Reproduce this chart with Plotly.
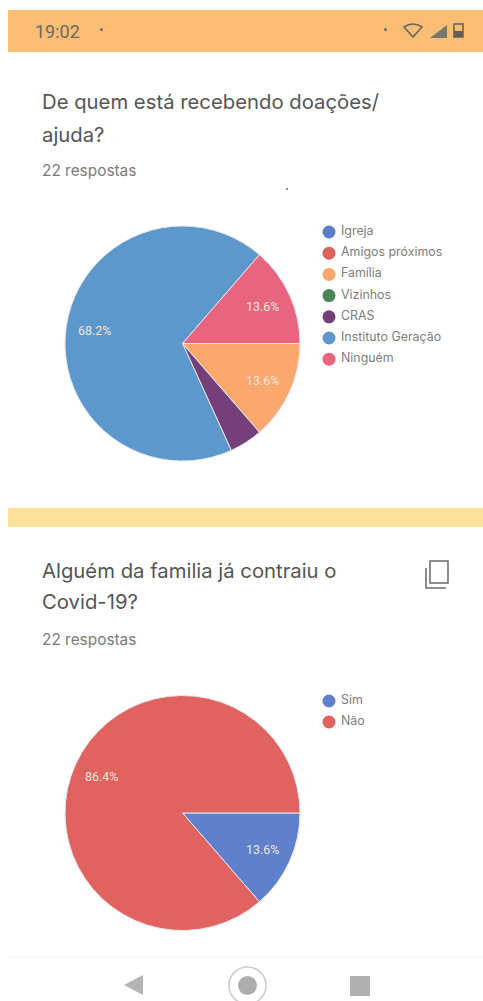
import math
import plotly.graph_objects as go

W, H = 483, 1001

# Data
labels_help = ["Igreja", "Amigos próximos", "Família", "Vizinhos", "CRAS", "Instituto Geração", "Ninguém"]
values_help = [0, 0, 3, 0, 1, 15, 3]
colors_help = ["#5b7cc8", "#dc625c", "#fba86c", "#4c8558", "#75407a", "#5d98cc", "#e9657f"]

labels_covid = ["Sim", "Não"]
values_covid = [3, 19]
colors_covid = ["#5f80cc", "#e0635f"]

TITLE_FONT = dict(family="Inter", size=20.3, color="#555555")
SUB_FONT = dict(family="Inter", size=15.4, color="#7a7a7a")
LEG_FONT = dict(family="Inter", size=12.4, color="#7d7d7d")
PCT_FONT = dict(family="Roboto", size=12.5, color="#f0e4dc")
R = 117.5
LABEL_MIN_SHARE = 0.05


def fx(x):
    return x / W


def fy(y):
    return 1 - y / H


def pie_domain(cx, cy, r):
    return dict(x=[fx(cx - r), fx(cx + r)], y=[fy(cy + r), fy(cy - r)])


def note(x, y, text, font, anchor="left"):
    return dict(x=x, y=y, xref="x", yref="y", text=text, showarrow=False,
                xanchor=anchor, yanchor="middle", font=font)


def pct_notes(values, cx, cy):
    """Percentage labels at three quarters of the radius, on each slice's mid angle."""
    out, total, seen = [], sum(values), 0
    for v in values:
        mid = (seen + v / 2) / total * 2 * math.pi
        seen += v
        if v / total >= LABEL_MIN_SHARE:
            out.append(note(cx + 0.75 * R * math.cos(mid), cy + 0.75 * R * math.sin(mid),
                            f"{v / total * 100:.1f}%", PCT_FONT, "center"))
    return out


fig = go.Figure()

for labels, values, colors, centre in [
    (labels_help, values_help, colors_help, (182.5, 343.5)),
    (labels_covid, values_covid, colors_covid, (182.5, 813)),
]:
    fig.add_trace(go.Pie(
        labels=labels, values=values, sort=False, direction="clockwise", rotation=90,
        marker=dict(colors=colors, line=dict(color="#e6e6ee", width=1)),
        textinfo="none",
        domain=pie_domain(centre[0], centre[1], R), showlegend=False, hoverinfo="label+percent",
    ))

# Legend keys: a dot and its label, one column per chart
for labels, colors, top, step in [
    (labels_help, colors_help, 232, 21.2),
    (labels_covid, colors_covid, 701, 21),
]:
    rows = [top + i * step for i in range(len(labels))]
    fig.add_trace(go.Scatter(
        x=[329] * len(labels), y=rows, mode="markers", marker=dict(color=colors, size=13),
        showlegend=False, hoverinfo="skip", cliponaxis=False,
    ))
    fig.add_trace(go.Scatter(
        x=[341] * len(labels), y=rows, mode="text", text=labels, textposition="middle right",
        textfont=LEG_FONT, showlegend=False, hoverinfo="skip", cliponaxis=False,
    ))

LINE = dict(color="#6e6e6e", width=1.6)
shapes = [
    dict(type="rect", x0=8, x1=483, y0=10, y1=52, fillcolor="#fbbd74", line_width=0),
    dict(type="rect", x0=8, x1=483, y0=508, y1=527, fillcolor="#fbe29a", line_width=0),
    dict(type="line", x0=8, x1=483, y0=957, y1=957, line=dict(color="#f0f0f0", width=1)),
    # copy icon
    dict(type="rect", x0=430, x1=448, y0=561, y1=583, line=LINE),
    dict(type="path", path="M 426 568 L 426 588 L 446 588", line=LINE),
    # navigation bar
    dict(type="path", path="M 124 985 L 143 975 L 143 995 Z", fillcolor="#b4b4b4", line_width=0),
    dict(type="circle", x0=229, x1=266, y0=967, y1=1004, line=dict(color="#cccccc", width=1.6)),
    dict(type="circle", x0=238, x1=257, y0=976, y1=995, fillcolor="#adadad", line_width=0),
    dict(type="rect", x0=350, x1=370, y0=976, y1=996, fillcolor="#b0b0b0", line_width=0),
    # status bar dots
    dict(type="circle", x0=100, x1=103, y0=28, y1=31, fillcolor="#6a6a60", line_width=0),
    dict(type="circle", x0=384, x1=387, y0=28, y1=31, fillcolor="#6a6a60", line_width=0),
    dict(type="circle", x0=286, x1=288, y0=188, y1=190, fillcolor="#666666", line_width=0),
    # status icons
    dict(type="path", path="M 404 27 Q 413 21 422 27 L 413 37 Z", line=dict(color="#666660", width=1.6)),
    dict(type="path", path="M 430 38 L 447 25 L 447 38 Z", fillcolor="#77776a", line_width=0),
    dict(type="rect", x0=454, x1=463, y0=24, y1=37, line=dict(color="#5f5f58", width=1.5)),
    dict(type="rect", x0=454, x1=463, y0=31, y1=37, fillcolor="#5f5f58", line_width=0),
]
for s in shapes:
    s.update(xref="x", yref="y", layer="below")

annotations = [
    note(33, 31, "19:02", dict(family="Roboto", size=18, color="#6a6a5c")),
    note(40, 101, "De quem está recebendo doações/", TITLE_FONT),
    note(40, 134, "ajuda?", TITLE_FONT),
    note(40, 170, "22 respostas", SUB_FONT),
    note(40, 570, "Alguém da familia já contraiu o", TITLE_FONT),
    note(40, 601, "Covid-19?", TITLE_FONT),
    note(40, 639, "22 respostas", SUB_FONT),
]
annotations += pct_notes(values_help, 182.5, 343.5)
annotations += pct_notes(values_covid, 182.5, 813)

fig.update_layout(
    width=W, height=H, margin=dict(l=0, r=0, t=0, b=0),
    paper_bgcolor="#ffffff", plot_bgcolor="rgba(0,0,0,0)",
    xaxis=dict(visible=False, range=[0, W], fixedrange=True, domain=[0, 1]),
    yaxis=dict(visible=False, range=[H, 0], fixedrange=True, domain=[0, 1]),
    shapes=shapes, annotations=annotations, showlegend=False,
)

fig.write_html("out.html", config=dict(displayModeBar=False),
               post_script="document.body.style.margin='0';document.body.style.overflow='hidden';")
